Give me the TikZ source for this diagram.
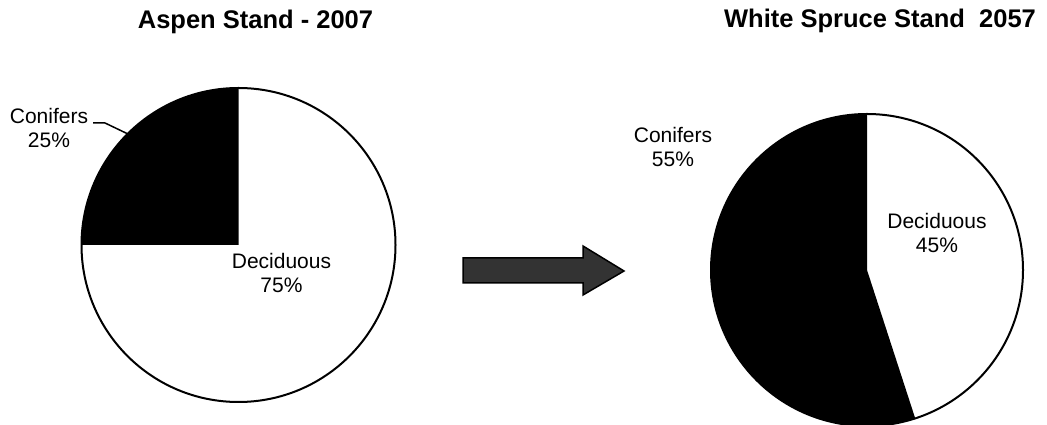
\documentclass[tikz,border=0pt]{standalone}
\usepackage{fontspec}
\setmainfont{Liberation Sans}
\begin{document}
\begin{tikzpicture}[x=1pt,y=1pt,
  title/.style={font=\fontsize{25.5}{30}\selectfont\bfseries, anchor=base},
  lbl/.style={font=\fontsize{21}{24.5}\selectfont, align=center, anchor=base, inner sep=0pt},
  pieline/.style={line width=2pt, draw=black},
  lead/.style={line width=1.5pt}]
\useasboundingbox (0,0) rectangle (1047,425);
% titles
\node[title] (t1) at (255.5,396) {Aspen Stand - 2007};
\node[title] (t2) at (880,397) {White Spruce Stand\ \ 2057};
% left pie
\coordinate (cL) at (238.5,180);
\fill[white] (cL) circle (157);
\fill[black] (cL) -- ++(90:157) arc (90:180:157) -- cycle;
\draw[pieline] (cL) circle (157);
% right pie
\coordinate (cR) at (867,155);
\fill[white] (cR) circle (156);
\fill[black] (cR) -- ++(90:156) arc (90:288:156) -- cycle;
\draw[pieline] (cR) circle (156);
% labels (anchor base = baseline of last line)
\node[lbl] (conL) at (49,277) {Conifers\\25\%};
\node[lbl] (decL) at (281.5,132) {Deciduous\\75\%};
\node[lbl] (conR) at (673,258) {Conifers\\55\%};
\node[lbl] (decR) at (937,172) {Deciduous\\45\%};
% leader line
\coordinate (l1) at (93,302);
\coordinate (l2) at (105,302);
\coordinate (l3) at (128,291);
\draw[lead] (l1) -- (l2) -- (l3);
% arrow
\draw[line width=1.5pt, fill=black!80, line join=miter] (463,167) -- (583,167) -- (583,179) -- (624,154) -- (583,130) -- (583,142) -- (463,142) -- cycle;
\end{tikzpicture}
\end{document}
